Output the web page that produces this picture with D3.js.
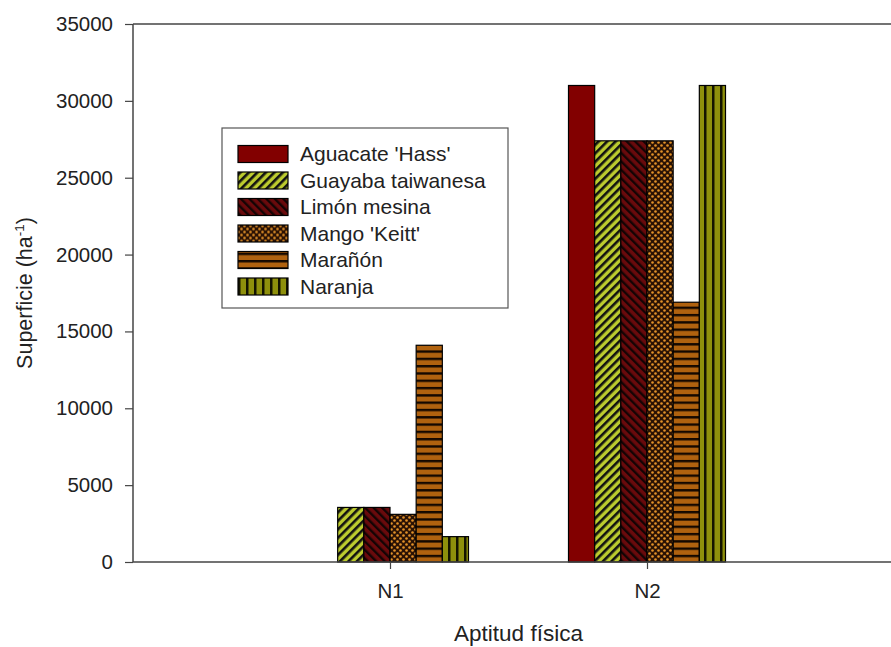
<!DOCTYPE html>
<html>
<head>
<meta charset="utf-8">
<script src="https://cdn.jsdelivr.net/npm/d3@7"></script>
<style>
  body { margin: 0; background: #fff; }
  svg { display: block; font-family: Arial, "Liberation Sans", sans-serif; }
</style>
</head>
<body>
<svg id="chart" width="891" height="647"></svg>
<script>
// data
const categories = ['N1', 'N2'];
const seriesNames = ["Aguacate 'Hass'", 'Guayaba taiwanesa', 'Limón mesina', "Mango 'Keitt'", 'Marañón', 'Naranja'];
const aguacate = [0, 31000];
const guayaba = [3550, 27400];
const limon = [3550, 27400];
const mango = [3100, 27400];
const maranon = [14100, 16900];
const naranja = [1650, 31000];
const yTicks = [0, 5000, 10000, 15000, 20000, 25000, 30000, 35000];

const seriesValues = [aguacate, guayaba, limon, mango, maranon, naranja];
const fills = ['url(#p0)', 'url(#p1)', 'url(#p2)', 'url(#p3)', 'url(#p4)', 'url(#p5)'];

const svg = d3.select('#chart');
const plotLeft = 133, plotRight = 904, plotTop = 24, plotBottom = 562;

// patterns (SigmaPlot style fills)
const defs = svg.append('defs');

const p0 = defs.append('pattern').attr('id', 'p0').attr('patternUnits', 'userSpaceOnUse')
  .attr('width', 4).attr('height', 4);
p0.append('rect').attr('width', 4).attr('height', 4).attr('fill', '#820000');

const p1 = defs.append('pattern').attr('id', 'p1').attr('patternUnits', 'userSpaceOnUse')
  .attr('width', 6).attr('height', 6).attr('patternTransform', 'rotate(45)');
p1.append('rect').attr('width', 6).attr('height', 6).attr('fill', '#bccb2e');
p1.append('rect').attr('width', 2.6).attr('height', 6).attr('fill', '#111');

const p2 = defs.append('pattern').attr('id', 'p2').attr('patternUnits', 'userSpaceOnUse')
  .attr('width', 6).attr('height', 6).attr('patternTransform', 'rotate(-45)');
p2.append('rect').attr('width', 6).attr('height', 6).attr('fill', '#6a0a0c');
p2.append('rect').attr('width', 2.4).attr('height', 6).attr('fill', '#140404');

const p3 = defs.append('pattern').attr('id', 'p3').attr('patternUnits', 'userSpaceOnUse')
  .attr('width', 6).attr('height', 6);
p3.append('rect').attr('width', 6).attr('height', 6).attr('fill', '#2a1204');
p3.append('circle').attr('cx', 1.5).attr('cy', 1.5).attr('r', 1.3).attr('fill', '#e39228');
p3.append('circle').attr('cx', 4.5).attr('cy', 4.5).attr('r', 1.3).attr('fill', '#e39228');

const p4 = defs.append('pattern').attr('id', 'p4').attr('patternUnits', 'userSpaceOnUse')
  .attr('width', 7).attr('height', 7.3);
p4.append('rect').attr('width', 7).attr('height', 7.3).attr('fill', '#b0620f');
p4.append('rect').attr('width', 7).attr('height', 2.4).attr('fill', '#140800');

const p5 = defs.append('pattern').attr('id', 'p5').attr('patternUnits', 'userSpaceOnUse')
  .attr('width', 8).attr('height', 8);
p5.append('rect').attr('width', 8).attr('height', 8).attr('fill', '#8e900c');
p5.append('rect').attr('width', 2.5).attr('height', 8).attr('fill', '#141400');

// scales
const x = d3.scalePoint().domain(categories).range([plotLeft, plotRight]).padding(1);
const xInner = d3.scaleBand().domain(seriesNames).range([-78.5, 78.5]).padding(0);
const y = d3.scaleLinear().domain([0, 35000]).range([plotBottom, plotTop]);

// bars (zero values are not drawn)
const groups = svg.selectAll('.series')
  .data(seriesNames)
  .enter()
  .append('g')
  .classed('series', true)
  .attr('fill', (d, i) => fills[i]);

groups.selectAll('rect')
  .data((d, i) => categories
    .map((c, j) => ({ cat: c, name: d, value: seriesValues[i][j] }))
    .filter(p => p.value > 0))
  .enter()
  .append('rect')
  .attr('x', d => x(d.cat) + xInner(d.name))
  .attr('width', xInner.bandwidth())
  .attr('y', d => y(d.value))
  .attr('height', d => y(0) - y(d.value))
  .attr('stroke', '#000')
  .attr('stroke-width', 1.2);

// top frame line
svg.append('line')
  .attr('x1', plotLeft).attr('x2', plotRight).attr('y1', y(35000)).attr('y2', y(35000))
  .attr('stroke', '#444').attr('stroke-width', 1.5);

// axes
const yAxis = svg.append('g')
  .attr('transform', `translate(${plotLeft},0)`)
  .call(d3.axisLeft(y).tickValues(yTicks).tickSize(8).tickPadding(12).tickFormat(d3.format('d')));

const xAxis = svg.append('g')
  .attr('transform', `translate(0,${plotBottom})`)
  .call(d3.axisBottom(x).tickSize(7).tickPadding(14).tickSizeOuter(0));

[yAxis, xAxis].forEach(a => {
  a.select('.domain').attr('stroke', '#444').attr('stroke-width', 1.5);
  a.selectAll('.tick line').attr('stroke', '#444').attr('stroke-width', 1.2);
  a.selectAll('.tick text').attr('fill', '#222').style('font-size', '20.5px');
});
yAxis.select('.domain').attr('d', `M0,${plotBottom}V${plotTop}`);
xAxis.select('.domain').attr('d', `M${plotLeft},0H${plotRight}`);

// axis titles
svg.append('text')
  .attr('x', (plotLeft + plotRight) / 2)
  .attr('y', 641)
  .attr('text-anchor', 'middle')
  .attr('fill', '#222')
  .style('font-size', '22.5px')
  .text('Aptitud física');

const yTitle = svg.append('text')
  .attr('transform', `translate(32,${(plotTop + plotBottom) / 2}) rotate(-90)`)
  .attr('text-anchor', 'middle')
  .attr('fill', '#222')
  .style('font-size', '21.5px');
yTitle.append('tspan').text('Superficie (ha');
yTitle.append('tspan').attr('dy', -8).style('font-size', '13.5px').text('-1');
yTitle.append('tspan').attr('dy', 8).text(')');

// legend
const legend = svg.append('g').attr('transform', 'translate(222,128)');
legend.append('rect')
  .attr('width', 286).attr('height', 180)
  .attr('fill', '#fff').attr('stroke', '#555').attr('stroke-width', 1.2);

const rows = legend.selectAll('.row')
  .data(seriesNames)
  .enter()
  .append('g')
  .classed('row', true)
  .attr('transform', (d, i) => `translate(0,${26 + i * 26.5})`);

rows.append('rect')
  .attr('x', 16).attr('y', -8.5)
  .attr('width', 50).attr('height', 17)
  .attr('fill', (d, i) => fills[i])
  .attr('stroke', '#000').attr('stroke-width', 1.2);

rows.append('text')
  .attr('x', 78)
  .attr('dy', '0.35em')
  .attr('fill', '#222')
  .style('font-size', '21px')
  .text(d => d);
</script>
</body>
</html>
